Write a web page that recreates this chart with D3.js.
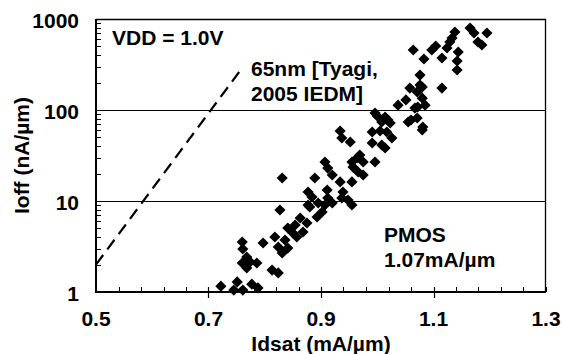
<!DOCTYPE html>
<html><head><meta charset="utf-8">
<script src="https://cdn.jsdelivr.net/npm/d3@7"></script>
<style>
html,body{margin:0;padding:0;background:#fff;}
text{font-family:"Liberation Sans",Arial,Helvetica,sans-serif;font-weight:bold;fill:#000;}
</style></head>
<body><svg id="c" width="563" height="354"></svg>
<script>
// ---- data ----
const idsat = [0.722,0.751,0.745,0.761,0.777,0.788,0.760,0.761,0.768,0.760,0.774,0.786,0.768,0.813,0.824,
  0.797,0.818,0.824,0.831,0.836,0.841,0.841,0.854,0.863,0.850,0.868,0.875,0.827,0.877,0.884,
  0.895,0.893,0.907,0.912,0.911,0.880,0.902,0.857,0.920,0.937,0.939,0.948,0.955,0.889,0.907,
  0.912,0.920,0.934,0.955,0.957,0.964,0.969,0.975,0.975,0.966,0.996,0.831,0.877,0.955,0.934,
  0.937,0.952,0.991,0.991,1.000,1.008,1.019,1.017,1.026,1.008,1.014,1.037,1.055,1.071,1.080,
  1.072,1.005,0.996,1.014,1.023,1.081,1.060,1.051,1.067,1.076,1.058,1.071,1.080,1.085,1.115,
  1.076,1.080,1.064,1.083,1.097,1.104,1.115,1.124,1.129,1.133,1.138,1.144,1.142,1.142,1.165,
  1.172,1.179,1.186,1.195];
const ioff = [1.16,1.29,1.05,1.05,1.22,1.11,3.54,2.97,2.42,2.08,2.14,2.08,1.84,1.74,1.62,
  3.46,4.02,3.12,2.68,3.73,3.04,5.05,5.45,6.51,4.45,4.56,5.73,7.96,9.04,11.07,
  9.51,6.67,9.04,10.79,13.2,8.59,7.57,4.02,9.51,10.79,12.56,10.26,9.04,17.9,26.8,
  23.0,19.3,16.2,16.2,23.6,29.7,32.0,26.8,19.3,20.8,26.8,17.9,12.56,26.8,58.8,
  49.2,44.5,57.3,43.4,85.9,73.8,77.6,57.3,49.2,41.3,38.2,113,73.8,81.7,60.3,
  108,58.8,92.7,83.8,72.0,65.1,77.6,129,105,188,174,158,135,113,174,
  242,179,456,363,456,505,373,480,559,618,720,434,346,275,796,
  702,559,518,702];
const refIdsat = [0.5, 0.758];
const refIoff = [2, 280];
const xTicks = [0.5, 0.7, 0.9, 1.1, 1.3];
const yTicks = [1, 10, 100, 1000];
const xLabel = "Idsat (mA/\u00b5m)";
const yLabel = "Ioff (nA/\u00b5m)";
const notes = [["VDD = 1.0V"], ["65nm [Tyagi,", "2005 IEDM]"], ["PMOS", "1.07mA/\u00b5m"]];

// ---- chart ----
const svg = d3.select("#c");
const L = 96, R = 546, T = 19, B = 292;
const x = d3.scaleLinear().domain([0.5, 1.3]).range([L, R]);
const y = d3.scaleLog().domain([1, 1000]).range([B, T]);

// gridlines
svg.append("g").selectAll("line").data([10, 100]).join("line")
  .attr("x1", L).attr("x2", R).attr("y1", d => Math.round(y(d)) + 0.5).attr("y2", d => Math.round(y(d)) + 0.5)
  .attr("stroke", "#000").attr("stroke-width", 1);

// frame top/right
svg.append("line").attr("x1", L).attr("x2", R).attr("y1", T + 0.5).attr("y2", T + 0.5).attr("stroke", "#000").attr("stroke-width", 1.3);
svg.append("line").attr("x1", R - 0.5).attr("x2", R - 0.5).attr("y1", T).attr("y2", B).attr("stroke", "#000").attr("stroke-width", 1.3);

// y minor ticks (inward)
const yMinor = [];
for (let e = 0; e < 3; e++) for (let k = 2; k <= 9; k++) yMinor.push(k * Math.pow(10, e));
svg.append("g").selectAll("line").data(yMinor).join("line")
  .attr("x1", L).attr("x2", L + 5).attr("y1", d => Math.round(y(d)) + 0.5).attr("y2", d => Math.round(y(d)) + 0.5)
  .attr("stroke", "#000").attr("stroke-width", 1);

// x minor ticks
const xMinor = d3.range(0, 21).map(i => +(0.5 + i * 0.04).toFixed(2));
svg.append("g").selectAll("line").data(xMinor).join("line")
  .attr("x1", d => Math.round(x(d)) + 0.5).attr("x2", d => Math.round(x(d)) + 0.5).attr("y1", B - 5).attr("y2", B)
  .attr("stroke", "#000").attr("stroke-width", 1);
// x major ticks crossing
svg.append("g").selectAll("line").data(xTicks.slice(1, -1)).join("line")
  .attr("x1", d => Math.round(x(d)) + 0.5).attr("x2", d => Math.round(x(d)) + 0.5).attr("y1", B - 5).attr("y2", B + 6)
  .attr("stroke", "#000").attr("stroke-width", 1.2);

// axes lines
svg.append("line").attr("x1", L).attr("x2", R).attr("y1", B).attr("y2", B).attr("stroke", "#000").attr("stroke-width", 2);
svg.append("line").attr("x1", L).attr("x2", L).attr("y1", T).attr("y2", B + 1).attr("stroke", "#000").attr("stroke-width", 2);

// tick labels
const fs = 21;
svg.append("g").selectAll("text").data(xTicks).join("text")
  .attr("x", d => x(d)).attr("y", 326).attr("text-anchor", "middle")
  .style("font-size", fs + "px").text(d => d3.format(".1f")(d));
svg.append("g").selectAll("text").data(yTicks).join("text")
  .attr("x", 79).attr("y", d => y(d) + 9).attr("text-anchor", "end")
  .style("font-size", fs + "px").text(d => d);

// axis titles
svg.append("text").attr("x", 321).attr("y", 351).attr("text-anchor", "middle")
  .style("font-size", fs + "px").text(xLabel);
svg.append("text").attr("transform", `translate(29,${(T + B) / 2}) rotate(-90)`).attr("text-anchor", "middle")
  .style("font-size", fs + "px").text(yLabel);

// reference dashed line
svg.append("path").datum(refIdsat.map((v, i) => [v, refIoff[i]]))
  .attr("d", d3.line().x(d => x(d[0])).y(d => y(d[1])))
  .attr("fill", "none").attr("stroke", "#000").attr("stroke-width", 2.2).attr("stroke-dasharray", "12,7");

// points
const sym = d3.symbol().type(d3.symbolSquare).size(62);
svg.append("g").selectAll("path").data(idsat.map((v, i) => [v, ioff[i]])).join("path")
  .attr("d", sym).attr("transform", d => `translate(${x(d[0])},${y(d[1])}) rotate(45)`)
  .attr("fill", "#000");

// annotations
const notePos = [[112, 45], [251, 76], [384, 242]];
notes.forEach((lines, i) => {
  lines.forEach((t, j) => {
    svg.append("text").attr("x", notePos[i][0]).attr("y", notePos[i][1] + j * 25)
      .style("font-size", fs + "px").text(t);
  });
});
</script></body></html>
